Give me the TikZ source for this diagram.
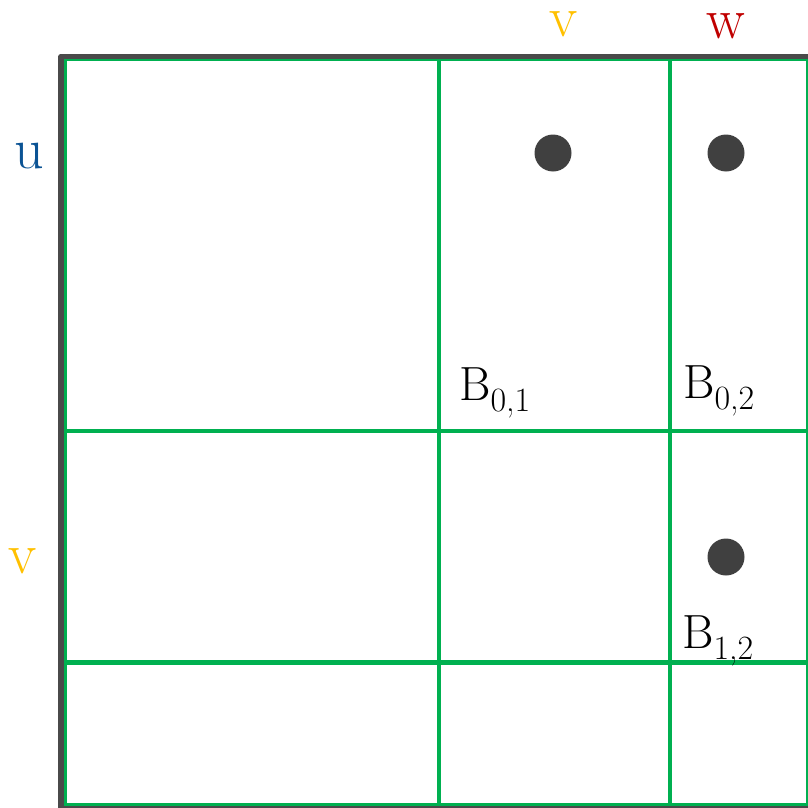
\documentclass[tikz,border=0pt]{standalone}
\usepackage{tikz}
\usetikzlibrary{positioning}
\definecolor{gridgreen}{HTML}{00B050}
\definecolor{framegray}{HTML}{4A4A4A}
\definecolor{dotgray}{HTML}{404040}
\definecolor{ublue}{HTML}{0B5394}
\definecolor{vgold}{HTML}{FFC000}
\definecolor{wred}{HTML}{C00000}

\begin{document}
\begin{tikzpicture}[x=1pt,y=-1pt,
    blockline/.style={gridgreen,line width=4.5pt},
    frameline/.style={framegray,line width=5.5pt,line join=round},
    entry/.style={circle,fill=dotgray,inner sep=0pt,minimum size=37pt},
    idx/.style={font=\fontsize{58}{60}\selectfont,anchor=base,inner sep=0pt,
        text height=1ex,text depth=0pt},
    blk/.style={font=\fontsize{48}{50}\selectfont,anchor=base west,inner sep=0pt}]
    \useasboundingbox (0,0) rectangle (807,808);
    % blocks
    \draw[blockline] (64.5,59) rectangle (808,805);
    \draw[blockline] (439,59) -- (439,805);
    \draw[blockline] (670,59) -- (670,805);
    \draw[blockline] (64.5,431) -- (808,431);
    \draw[blockline] (64.5,662.5) -- (808,662.5);
    % matrix frame
    \draw[frameline] (61,812) -- (61,56.5) -- (812,56.5);
    \draw[frameline] (58,808.5) -- (812,808.5);
    % row and column names
    \node[idx,ublue] (lblU) at (29,168) {u};
    \node[idx,vgold] (lblVrow) at (22.5,573) {v};
    \node[idx,vgold] (lblVcol) at (564,37) {v};
    \node[idx,wred] (lblW) at (726,39) {w};
    % nonzero entries
    \node[entry] (e01) at (553,153) {};
    \node[entry] (e02) at (726,153) {};
    \node[entry] (e12) at (726,557) {};
    % block names
    \node[blk] (b01) at (459,400) {B\raisebox{-11pt}{\fontsize{34}{36}\selectfont 0,1}};
    \node[blk] (b02) at (683,398) {B\raisebox{-11pt}{\fontsize{34}{36}\selectfont 0,2}};
    \node[blk] (b12) at (682,648) {B\raisebox{-11pt}{\fontsize{34}{36}\selectfont 1,2}};
\end{tikzpicture}
\end{document}
